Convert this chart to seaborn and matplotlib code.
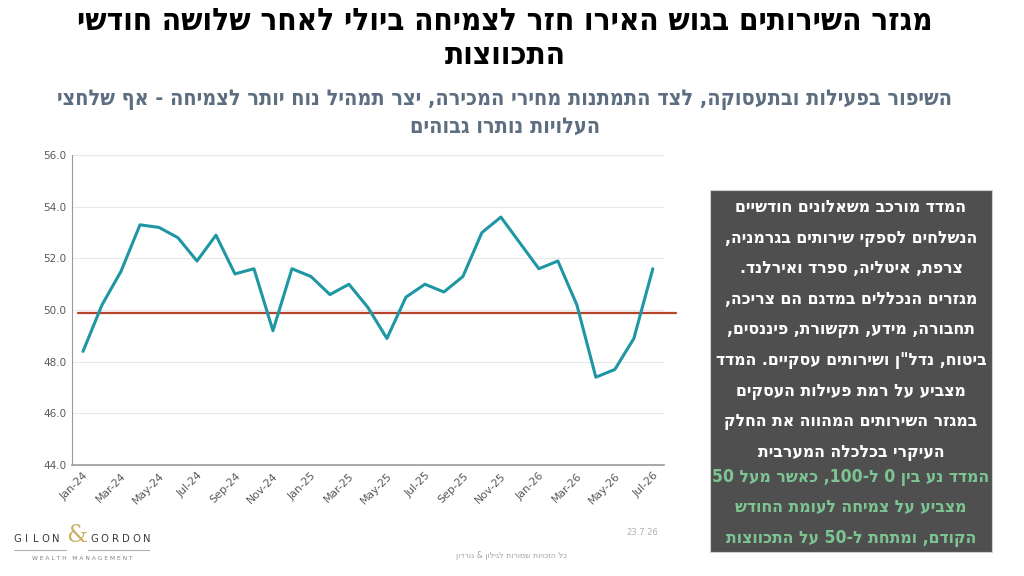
import re
import numpy as np
import pandas as pd
import matplotlib
matplotlib.use("Agg")
import matplotlib.pyplot as plt
from matplotlib.patches import Rectangle
import seaborn as sns

# data (monthly, Jan-24 .. Jul-26)
months = ["Jan-24", "Feb-24", "Mar-24", "Apr-24", "May-24", "Jun-24", "Jul-24", "Aug-24",
          "Sep-24", "Oct-24", "Nov-24", "Dec-24", "Jan-25", "Feb-25", "Mar-25", "Apr-25",
          "May-25", "Jun-25", "Jul-25", "Aug-25", "Sep-25", "Oct-25", "Nov-25", "Dec-25",
          "Jan-26", "Feb-26", "Mar-26", "Apr-26", "May-26", "Jun-26", "Jul-26"]
pmi = [48.4, 50.2, 51.5, 53.3, 53.2, 52.8, 51.9, 52.9, 51.4, 51.6, 49.2, 51.6,
       51.3, 50.6, 51.0, 50.1, 48.9, 50.5, 51.0, 50.7, 51.3, 53.0, 53.6, 52.6,
       51.6, 51.9, 50.2, 47.4, 47.7, 48.9, 51.6]
threshold = 49.9
yticks = [44, 46, 48, 50, 52, 54, 56]

title_lines = ["מגזר השירותים בגוש האירו חזר לצמיחה ביולי לאחר שלושה חודשי",
               "התכווצות"]
subtitle_lines = ["השיפור בפעילות ובתעסוקה, לצד התמתנות מחירי המכירה, יצר תמהיל נוח יותר לצמיחה - אף שלחצי",
                  "העלויות נותרו גבוהים"]
box_white = ["המדד מורכב משאלונים חודשיים",
             "הנשלחים לספקי שירותים בגרמניה,",
             "צרפת, איטליה, ספרד ואירלנד.",
             "מגזרים הנכללים במדגם הם צריכה,",
             "תחבורה, מידע, תקשורת, פיננסים,",
             "ביטוח, נדל\"ן ושירותים עסקיים. המדד",
             "מצביע על רמת פעילות העסקים",
             "במגזר השירותים המהווה את החלק",
             "העיקרי בכלכלה המערבית"]
box_green = ["המדד נע בין 0 ל-100, כאשר מעל 50",
             "מצביע על צמיחה לעומת החודש",
             "הקודם, ומתחת ל-50 על התכווצות"]
footer = "כל הזכויות שמורות לגילון & גורדון"
date_txt = "23.7.26"


def rtl(s):
    # matplotlib has no bidi: flip the line, then put number runs back in order
    r = s[::-1]
    return re.sub(r"[0-9][0-9.,]*[0-9]|[0-9]", lambda m: m.group(0)[::-1], r)


sns.set_style("white")
plt.rcParams["font.family"] = ["DejaVu Sans", "Liberation Sans"]
heb = dict(family="DejaVu Sans", fontweight="bold", stretch="condensed")

fig = plt.figure(figsize=(10.24, 5.76), dpi=100)
ax = fig.add_axes([0.0703, 0.1927, 0.578, 0.538])

df = pd.DataFrame({"idx": np.arange(len(months)), "pmi": pmi})
sns.lineplot(data=df, x="idx", y="pmi", color="#1f96a3", linewidth=2.2, ax=ax)
ax.axhline(threshold, xmin=0.01, xmax=1.02, color="#b8432c", linewidth=1.6,
           clip_on=False, zorder=1)

ax.set_ylim(44, 56)
ax.set_yticks(yticks)
ax.set_yticklabels([f"{v:.1f}" for v in yticks], fontsize=7.5, color="#595959",
                   family="Liberation Sans Narrow")
ax.set_xlim(-0.58, len(months) - 1 + 0.58)
ax.set_xticks(df["idx"][::2])
ax.set_xticklabels(months[::2], rotation=45, ha="right", rotation_mode="anchor",
                   fontsize=7.8, color="#595959", family="Liberation Sans Narrow")
ax.tick_params(axis="both", length=0, pad=4)
ax.set_xlabel("")
ax.set_ylabel("")
ax.grid(axis="y", color="#e8e8e8", linewidth=0.8)
ax.set_axisbelow(True)
for s in ["top", "right"]:
    ax.spines[s].set_visible(False)
ax.spines["left"].set_color("#9a9a9a")
ax.spines["bottom"].set_color("#9a9a9a")
ax.spines["bottom"].set_linewidth(1.2)

# titles
fig.text(0.493, 0.963, rtl(title_lines[0]), ha="center", va="center",
         fontsize=22.5, color="black", **heb)
fig.text(0.493, 0.903, rtl(title_lines[1]), ha="center", va="center",
         fontsize=22.5, color="black", **heb)
fig.text(0.493, 0.826, rtl(subtitle_lines[0]), ha="center", va="center",
         fontsize=15.5, color="#5c6e80", **heb)
fig.text(0.493, 0.780, rtl(subtitle_lines[1]), ha="center", va="center",
         fontsize=15.5, color="#5c6e80", **heb)

# explanation box
fig.patches.append(Rectangle((0.693, 0.042), 0.276, 0.628, transform=fig.transFigure,
                             facecolor="#4f4f4f", edgecolor="#d0d0d0", linewidth=0.8))
y = 0.640
for line in box_white:
    fig.text(0.831, y, rtl(line), ha="center", va="center", fontsize=12.6,
             color="white", **heb)
    y -= 0.053
y += 0.009
for line in box_green:
    fig.text(0.831, y, rtl(line), ha="center", va="center", fontsize=12.6,
             color="#7cc592", **heb)
    y -= 0.053

# logo: letter by letter to get the wide tracking
for i, ch in enumerate("GILON"):
    fig.text((17 + i * 9.6) / 1024, 0.064, ch, ha="center", va="center", fontsize=8,
             color="#3a3a3a", stretch="condensed")
for i, ch in enumerate("GORDON"):
    fig.text((94 + i * 10.6) / 1024, 0.064, ch, ha="center", va="center", fontsize=8,
             color="#3a3a3a", stretch="condensed")
fig.text(77 / 1024, 0.070, "&", ha="center", va="center", fontsize=17,
         family="DejaVu Serif", color="#c9b266")
fig.add_artist(plt.Line2D([14 / 1024, 66 / 1024], [0.046, 0.046], color="#b0b0b0", linewidth=0.8))
fig.add_artist(plt.Line2D([88 / 1024, 149 / 1024], [0.046, 0.046], color="#b0b0b0", linewidth=0.8))
fig.text(82 / 1024, 0.030, "W E A L T H   M A N A G E M E N T", ha="center", va="center",
         fontsize=4.3, color="#808080")
fig.text(0.627, 0.075, date_txt, ha="center", va="center", fontsize=6, color="#b0b0b0")
fig.text(0.500, 0.036, rtl(footer), ha="center", va="center", fontsize=5.6, color="#a0a0a0")

fig.savefig("out.png", dpi=100)
